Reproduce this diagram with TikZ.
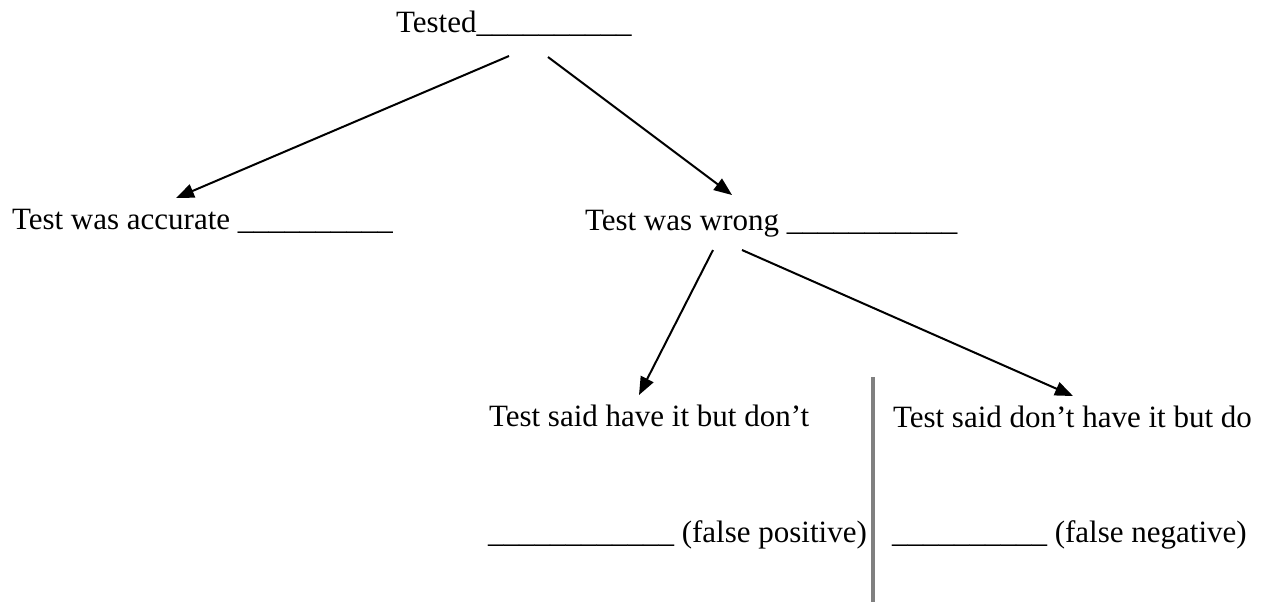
\documentclass[tikz,border=0pt]{standalone}
\usepackage{fontspec}
\setmainfont{Liberation Serif}
\usetikzlibrary{arrows.meta}

\begin{document}
\begin{tikzpicture}
    [ x = .5pt, y = -.5pt
    , answer/.style =
      { anchor = base west, inner sep = 0pt, outer sep = 0pt
      , font = \fontsize{15.5}{18}\selectfont }
    , branch/.style =
      { line width = 1pt, -{Triangle[length = 9pt, width = 7pt]} }
    , divider/.style =
      { line width = 2pt, gray }
    ]
    \useasboundingbox (0,0) rectangle (1272,602);

    \node [answer] (tested) at (396,32) {Tested\_\_\_\_\_\_\_\_\_\_};
    \node [answer] (accurate) at (12,229) {Test was accurate \_\_\_\_\_\_\_\_\_\_};
    \node [answer] (wrong) at (585,230) {Test was wrong \_\_\_\_\_\_\_\_\_\_\_};
    \node [answer] (haveit) at (489,426) {Test said have it but don't};
    \node [answer] (donthave) at (893,427) {Test said don't have it but do};
    \node [answer] (falsepos) at (488,542) {\_\_\_\_\_\_\_\_\_\_\_\_ (false positive)};
    \node [answer] (falseneg) at (892,542) {\_\_\_\_\_\_\_\_\_\_ (false negative)};

    \draw [branch] ([shift={(113,24)}]tested.base west) -- ([shift={(164,-31)}]accurate.base west);
    \draw [branch] ([shift={(152,25)}]tested.base west) -- ([shift={(147,-35)}]wrong.base west);
    \draw [branch] ([shift={(128,20)}]wrong.base west) -- ([shift={(150,-31)}]haveit.base west);
    \draw [branch] ([shift={(157,20)}]wrong.base west) -- ([shift={(180,-31)}]donthave.base west);

    \draw [divider] (873,377) -- (873,602);
  \end{tikzpicture}
\end{document}
